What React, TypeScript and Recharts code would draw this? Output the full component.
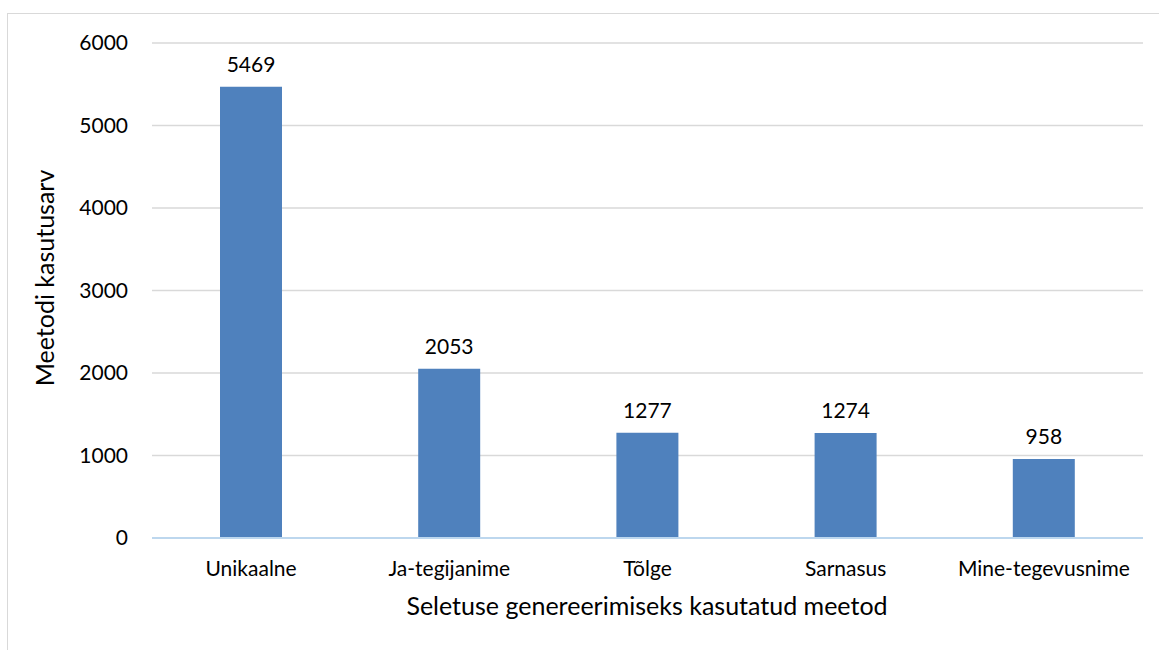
import React from 'react';
import { BarChart, Bar, XAxis, YAxis, CartesianGrid, LabelList, Label } from 'recharts';

const categories = ['Unikaalne', 'Ja-tegijanime', 'Tõlge', 'Sarnasus', 'Mine-tegevusnime'];
const counts = [5469, 2053, 1277, 1274, 958];
const yTicks = [0, 1000, 2000, 3000, 4000, 5000, 6000];

const rows = categories.map((name, i) => ({ name, value: counts[i] }));

const FONT = 'Lato, "Open Sans", sans-serif';

export default function App() {
  return (
    <div style={{ position: 'fixed', left: 0, top: 0, width: 1159, height: 650, background: '#fff', overflow: 'hidden' }}>
      <div
        style={{
          position: 'absolute',
          left: 7,
          top: 13,
          width: 1200,
          height: 700,
          border: '1px solid #d9d9d9',
          boxSizing: 'border-box',
        }}
      />
      <div style={{ position: 'absolute', left: 0, top: 0 }}>
        <BarChart
          width={1159}
          height={650}
          data={rows}
          margin={{ top: 43, right: 16, bottom: 82, left: 52 }}
          style={{ fontFamily: FONT }}
        >
          <CartesianGrid vertical={false} stroke="#d9d9d9" strokeWidth={1.5} />
          <XAxis
            dataKey="name"
            height={30}
            axisLine={{ stroke: '#bdd7ee', strokeWidth: 2 }}
            tickLine={false}
            tickMargin={17}
            tick={{ fontSize: 21, fill: '#000' }}
            interval={0}
          >
            <Label
              content={() => (
                <text x={647} y={615} textAnchor="middle" fontSize={25} fill="#000" fontFamily={FONT}>
                  Seletuse genereerimiseks kasutatud meetod
                </text>
              )}
            />
          </XAxis>
          <YAxis
            width={100}
            domain={[0, 6000]}
            ticks={yTicks}
            axisLine={false}
            tickLine={false}
            tickMargin={18}
            tick={{ fontSize: 21, fill: '#000' }}
          >
            <Label
              content={() => (
                <text
                  x={44}
                  y={278}
                  transform="rotate(-90, 44, 278)"
                  textAnchor="middle"
                  dominantBaseline="central"
                  fontSize={25}
                  fill="#000"
                  fontFamily={FONT}
                >
                  Meetodi kasutusarv
                </text>
              )}
            />
          </YAxis>
          <Bar dataKey="value" fill="#4f81bd" barSize={62} isAnimationActive={false}>
            <LabelList dataKey="value" position="top" offset={15} style={{ fontSize: 21, fill: '#000' }} />
          </Bar>
        </BarChart>
      </div>
    </div>
  );
}
